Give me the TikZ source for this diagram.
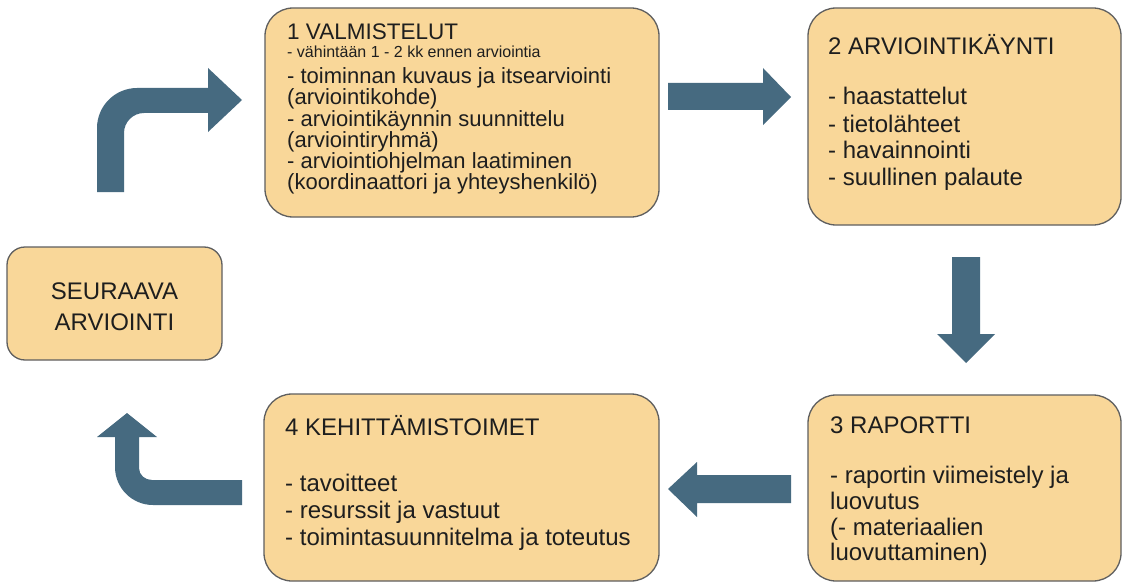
\documentclass[tikz,border=0pt]{standalone}
\usepackage{fontspec}
\setmainfont{Liberation Sans}
\definecolor{boxfill}{RGB}{249,215,153}
\definecolor{boxline}{RGB}{95,95,95}
\definecolor{arrcol}{RGB}{70,106,128}
\definecolor{txtcol}{RGB}{30,30,30}
\begin{document}
\begin{tikzpicture}[x=1pt,y=-1pt,
  box/.style={draw=boxline, fill=boxfill, line width=1.3pt, rounded corners=28pt, inner sep=0pt},
  txt/.style={anchor=base west, inner sep=0pt, text=txtcol},
  ctxt/.style={anchor=base, inner sep=0pt, text=txtcol},
  tight/.style={text height=15pt, text depth=4pt},
  blockarrow/.style={fill=arrcol, draw=none},
  big/.style={font=\fontsize{24}{26}\selectfont},
  mid/.style={font=\fontsize{22}{23}\selectfont},
  small/.style={font=\fontsize{16}{18}\selectfont}]
\useasboundingbox (0,0) rectangle (1123,583);
\fill[white] (0,0) rectangle (1123,583);

% boxes
\node[box, minimum width=394pt, minimum height=209pt] (b1) at (462,112.5) {};
\node[box, minimum width=313pt, minimum height=217pt] (b2) at (964.5,116.5) {};
\node[box, minimum width=313pt, minimum height=186pt] (b3) at (964.5,488) {};
\node[box, minimum width=395pt, minimum height=187pt] (b4) at (461.5,487.5) {};
\node[box, rounded corners=18pt, minimum width=215pt, minimum height=113pt] (b0) at (114.5,303.5) {};

% box 1 text
\node[txt, font=\fontsize{22.5}{24}\selectfont, text height=17pt, text depth=1pt] (b1t) at (287,40) {1 VALMISTELUT};
\node[txt, small, text height=11pt, text depth=3pt] (b1s) at (287,58) {- vähintään 1 - 2 kk ennen arviointia};
\node[txt, mid, tight] (b1a) at (287,84) {- toiminnan kuvaus ja itsearviointi};
\node[txt, mid, tight] (b1b) at (287,105) {(arviointikohde)};
\node[txt, mid, tight] (b1c) at (287,126) {- arviointikäynnin suunnittelu};
\node[txt, mid, tight] (b1d) at (287,147) {(arviointiryhmä)};
\node[txt, mid, tight] (b1e) at (287,168) {- arviointiohjelman laatiminen};
\node[txt, mid, tight] (b1f) at (287,189) {(koordinaattori ja yhteyshenkilö)};

% box 2 text
\node[txt, big] (b2t) at (828,55) {2 ARVIOINTIKÄYNTI};
\node[txt, big] (b2a) at (828,105) {- haastattelut};
\node[txt, big] (b2b) at (828,132) {- tietolähteet};
\node[txt, big] (b2c) at (828,158) {- havainnointi};
\node[txt, big] (b2d) at (828,185) {- suullinen palaute};

% box 3 text
\node[txt, big] (b3t) at (830,433) {3 RAPORTTI};
\node[txt, big] (b3a) at (830,483) {- raportin viimeistely ja};
\node[txt, big] (b3b) at (830,509) {luovutus};
\node[txt, big] (b3c) at (830,535) {(- materiaalien};
\node[txt, big] (b3d) at (830,560) {luovuttaminen)};

% box 4 text
\node[txt, big] (b4t) at (285,435) {4 KEHITTÄMISTOIMET};
\node[txt, big] (b4a) at (285,491) {- tavoitteet};
\node[txt, big] (b4b) at (285,518) {- resurssit ja vastuut};
\node[txt, big] (b4c) at (285,545) {- toimintasuunnitelma ja toteutus};

% next evaluation
\node[ctxt, big] (b0a) at (114.5,299) {SEURAAVA};
\node[ctxt, big] (b0b) at (114.5,330) {ARVIOINTI};

% arrow 1 -> 2
\path[blockarrow] (668,83) -- (763,83) -- (763,68) -- (791,97) -- (763,125) -- (763,110) -- (668,110) -- cycle;
% arrow 2 -> 3
\path[blockarrow] (952,257) -- (980,257) -- (980,334) -- (995,334) -- (966,363) -- (937,334) -- (952,334) -- cycle;
% arrow 3 -> 4
\path[blockarrow] (791,475) -- (697,475) -- (697,462) -- (668,489) -- (697,517) -- (697,503) -- (791,503) -- cycle;
% arrow 4 -> next (bent up)
\path[blockarrow] (242,480) -- (242,505) -- (153,505)
  .. controls (132,505) and (115,488) .. (115,467) -- (115,437) -- (97,437) -- (127,413)
  -- (157,437) -- (139,437) -- (139,468)
  .. controls (139,475) and (145,480) .. (152,480) -- cycle;
% arrow next -> 1 (bent right)
\path[blockarrow] (97,192) -- (97,128) .. controls (97,106) and (115,88) .. (137,88)
  -- (208,88) -- (208,68) -- (242,100) -- (208,132) -- (208,113) -- (144,113)
  .. controls (133,113) and (124,122) .. (124,133) -- (124,192) -- cycle;
\end{tikzpicture}
\end{document}
